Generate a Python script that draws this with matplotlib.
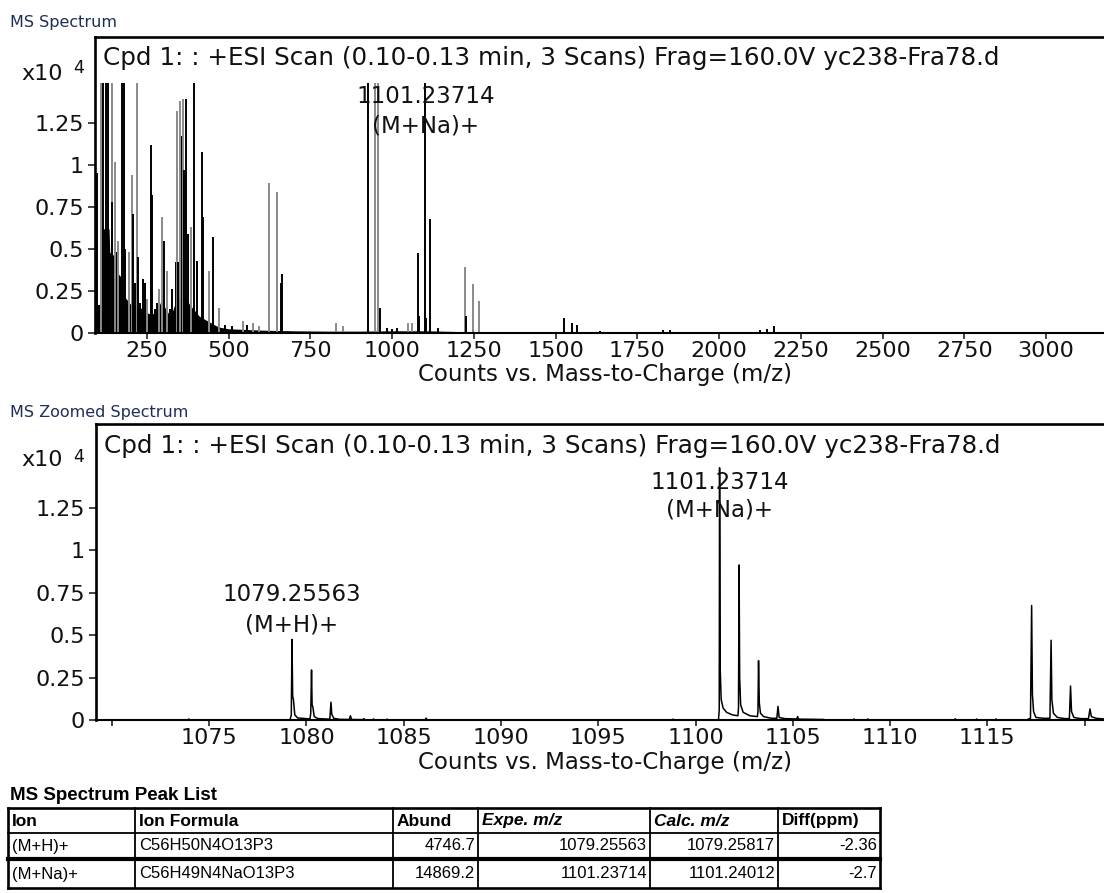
import matplotlib
matplotlib.use('Agg')
import matplotlib.pyplot as plt
from matplotlib.lines import Line2D
from matplotlib.ticker import FixedLocator, FuncFormatter
import numpy as np

W, H = 1104, 893

# full scan, centroid sticks (m/z, counts); 'g' sticks are the pale ones
stick_mz = [96, 109, 116, 124, 130, 142, 144, 152, 157, 162, 173, 179, 183, 195,
            203, 208, 213, 218, 223, 229, 239, 244, 249, 261, 266, 274, 280, 287,
            295, 303, 310, 320, 327, 338, 342, 346, 351, 356, 359, 363, 368, 376,
            385, 395, 402, 417, 422, 440, 453, 471, 489, 509, 545, 557, 575, 593,
            623, 647, 660, 664, 827, 850, 927, 948, 958, 964, 985, 1000, 1015,
            1048, 1060, 1079.26, 1083, 1101.24, 1104, 1117.2, 1141, 1223, 1226,
            1246, 1266, 1527, 1551, 1566, 1636, 1828, 1850, 2126, 2146, 2168]
stick_counts = [9500, 14869, 14869, 14869, 14869, 14869, 7800, 10200, 4800, 5500,
                14869, 14869, 5000, 4800, 9400, 7100, 3000, 14869, 4500, 1800, 3200,
                3000, 2000, 11200, 8200, 1400, 1800, 2600, 6900, 5500, 3700, 1400,
                2600, 4200, 13200, 4200, 13800, 11700, 13900, 9700, 13900, 5900,
                6300, 14869, 4300, 10800, 6900, 3700, 5700, 1500, 500, 400, 700, 500,
                600, 400, 8900, 8400, 3000, 3500, 600, 400, 14869, 14869, 14869,
                1500, 300, 250, 300, 600, 600, 4746.7, 1000, 14869.2, 900, 6800,
                300, 3900, 1000, 2900, 1900, 900, 600, 500, 100, 200, 200, 200, 250,
                400]
stick_shade = ['k', 'g', 'k', 'k', 'k', 'g', 'k', 'g', 'k', 'g', 'k', 'k', 'k', 'g',
               'g', 'k', 'k', 'g', 'k', 'k', 'k', 'k', 'g', 'k', 'k', 'k', 'k', 'g',
               'g', 'k', 'g', 'k', 'k', 'k', 'g', 'k', 'g', 'k', 'g', 'k', 'k', 'k',
               'g', 'k', 'k', 'k', 'k', 'g', 'k', 'g', 'k', 'k', 'g', 'k', 'g', 'g',
               'g', 'g', 'k', 'k', 'g', 'g', 'k', 'g', 'g', 'k', 'k', 'k', 'k',
               'g', 'g', 'k', 'k', 'k', 'k', 'k', 'k', 'g', 'k',
               'g', 'g', 'k', 'k', 'k', 'k', 'k', 'k', 'k', 'k', 'k']

# unresolved low-mass ion crowd under the sticks
crowd_mz = [91, 107, 109, 134, 136, 156, 158, 172, 174, 188, 200, 215, 230, 250,
            264, 280, 295, 305, 318, 328, 340, 355, 368, 380, 397, 410, 437, 455,
            470, 500, 540, 600, 700, 800, 900, 1000, 1100, 1200, 1300, 1400, 2000,
            3177]
crowd_counts = [1700, 1700, 6200, 6200, 4800, 4500, 3600, 3300, 2300, 2000, 1700,
                1600, 1500, 1200, 1100, 1300, 2000, 1500, 1100, 1300, 2000, 2200,
                2100, 1700, 1300, 1000, 700, 500, 350, 250, 220, 170, 130, 110, 110,
                130, 130, 90, 45, 30, 25, 20]

# zoomed profile trace around the molecular ions
profile_mz = [1069.2, 1073.9, 1073.95, 1074.0,
              1079.15, 1079.22, 1079.25563, 1079.29, 1079.33, 1079.40, 1079.55,
              1080.0, 1080.18, 1080.22, 1080.26, 1080.29, 1080.33, 1080.40, 1080.6,
              1081.0, 1081.2, 1081.26, 1081.30, 1081.4, 1081.7, 1082.2, 1082.26,
              1082.32, 1082.9, 1082.95, 1083.0, 1083.4, 1083.45, 1083.5, 1084.1,
              1084.15, 1084.2, 1086.1, 1086.15, 1086.2,
              1098.8, 1098.85, 1098.9, 1101.18, 1101.22, 1101.23714, 1101.27,
              1101.32, 1101.42, 1101.6, 1101.9, 1102.18, 1102.21, 1102.24, 1102.27,
              1102.32, 1102.45, 1102.8, 1103.18, 1103.21, 1103.24, 1103.28, 1103.34,
              1103.5, 1103.9, 1104.18, 1104.24, 1104.3, 1104.6, 1105.2, 1105.25,
              1105.3, 1106.6, 1106.7,
              1108.1, 1108.15, 1108.2, 1108.8, 1108.85, 1108.9, 1113.3, 1113.35,
              1113.4, 1114.4, 1114.45, 1114.5, 1115.4, 1115.45, 1115.5,
              1117.0, 1117.22, 1117.28, 1117.32, 1117.38, 1117.5, 1117.9, 1118.22,
              1118.28, 1118.32, 1118.4, 1118.6, 1119.0, 1119.22, 1119.28, 1119.33,
              1119.45, 1119.8, 1120.2, 1120.28, 1120.35, 1120.6, 1121.0]
profile_counts = [0, 0, 60, 0,
                  0, 300, 4746.7, 1400, 1200, 300, 120,
                  80, 60, 400, 2950, 900, 750, 200, 80,
                  60, 50, 1050, 350, 100, 40, 30, 250,
                  30, 20, 80, 10, 10, 60, 0, 0,
                  50, 0, 0, 110, 0,
                  0, 50, 0, 0, 600, 14869.2, 3000,
                  1200, 700, 450, 300, 250, 700, 9140, 2500,
                  900, 450, 250, 200, 500, 3500, 1000, 400,
                  200, 100, 100, 800, 150, 80, 60, 200,
                  50, 30, 0,
                  0, 60, 0, 0, 60, 0, 0, 70,
                  0, 0, 60, 0, 0, 60, 0,
                  0, 100, 6750, 1500, 500, 150, 100, 100,
                  4700, 1200, 400, 150, 80, 80, 2000, 500,
                  150, 80, 80, 650, 200, 100, 60]

# identified ions
ion_names = ['(M+H)+', '(M+Na)+']
ion_formulas = ['C56H50N4O13P3', 'C56H49N4NaO13P3']
ion_abund = [4746.7, 14869.2]
ion_expe = [1079.25563, 1101.23714]
ion_calc = [1079.25817, 1101.24012]
ion_diff = [-2.36, -2.7]

plt.rcParams['font.family'] = ['DejaVu Sans']
TXT = '#111111'
NAVY = '#1f2d5a'
GREY = '#8a8a8a'
table_font = ['Liberation Sans', 'DejaVu Sans']

fig = plt.figure(figsize=(W / 100, H / 100), dpi=100)


def px_axes(left, top, right, bottom):
    return fig.add_axes([left / W, 1 - bottom / H, (right - left) / W, (bottom - top) / H])


def fx(x):
    return x / W


def fy(y):
    return 1 - y / H


def style_axes(ax, title_y):
    for side in ['top', 'left']:
        ax.spines[side].set_linewidth(1.9)
    ax.spines['bottom'].set_linewidth(1.5)
    ax.spines['right'].set_visible(False)
    ax.yaxis.set_major_locator(FixedLocator([0, 0.25, 0.5, 0.75, 1, 1.25]))
    ax.yaxis.set_major_formatter(FuncFormatter(lambda v, p: '%g' % v))
    ax.tick_params(axis='y', direction='out', length=5, width=1.1, pad=3,
                   labelsize=16, colors=TXT)
    ax.tick_params(axis='x', direction='out', length=4.5, width=1.1, pad=1.5,
                   labelsize=16, colors=TXT)
    ax.text(0.008, title_y, 'Cpd 1: : +ESI Scan (0.10-0.13 min, 3 Scans) '
            'Frag=160.0V yc238-Fra78.d', transform=ax.transAxes,
            fontsize=17.7, color=TXT, va='center', ha='left')


# ---- full spectrum ----
ax1 = px_axes(95, 37, 1104, 333)
clip = max(ion_abund)
heights = np.minimum(np.array(stick_counts), clip) / 1e4
ax1.fill_between(np.array(crowd_mz), 0, np.array(crowd_counts) / 1e4,
                 color='black', lw=0)
cols = ['black' if s == 'k' else GREY for s in stick_shade]
ax1.vlines(stick_mz, 0, heights, colors=cols, lw=1.4)
ax1.set_xlim(90.9, 3177.5)
ax1.set_ylim(0, 1.762)
ax1.xaxis.set_major_locator(FixedLocator(np.arange(250, 3001, 250)))
ax1.xaxis.set_major_formatter(FuncFormatter(lambda v, p: '%d' % v))
style_axes(ax1, 1 - 21 / 296)
ax1.text(ion_expe[1], 1.41, '%.5f' % ion_expe[1], ha='center', va='center',
         fontsize=16.5, color=TXT)
ax1.text(ion_expe[1], 1.232, ion_names[1], ha='center', va='center',
         fontsize=16.5, color=TXT)

# ---- zoomed spectrum ----
ax2 = px_axes(96, 424, 1104, 720)
ax2.plot(profile_mz, np.array(profile_counts) / 1e4, color='black', lw=1.1)
ax2.set_xlim(1069.18, 1121.0)
ax2.set_ylim(0, 1.745)
ax2.xaxis.set_major_locator(FixedLocator(np.arange(1070, 1121, 5)))
ax2.xaxis.set_major_formatter(
    FuncFormatter(lambda v, p: '' if v in (1070, 1120) else '%d' % v))
style_axes(ax2, 1 - 22 / 296)
label_y = [(0.737, 0.56), (1.403, 1.238)]
for mz, name, (y1, y2) in zip(ion_expe, ion_names, label_y):
    ax2.text(mz, y1, '%.5f' % mz, ha='center', va='center', fontsize=16.5, color=TXT)
    ax2.text(mz, y2, name, ha='center', va='center', fontsize=16.5, color=TXT)

# panel captions, scale markers and axis labels
fig.text(fx(10), fy(27), 'MS Spectrum', fontsize=11.5, color=NAVY, ha='left',
         va='baseline')
fig.text(fx(10), fy(417), 'MS Zoomed Spectrum', fontsize=11.5, color=NAVY,
         ha='left', va='baseline')
for y_mul, y_exp, y_lab in [(74, 68, 374), (460, 457, 762)]:
    fig.text(fx(42), fy(y_mul), 'x10', fontsize=16, color=TXT, ha='center',
             va='center')
    fig.text(fx(79), fy(y_exp), '4', fontsize=12.5, color=TXT, ha='center',
             va='center')
    fig.text(fx(605), fy(y_lab), 'Counts vs. Mass-to-Charge (m/z)', fontsize=16.5,
             color=TXT, ha='center', va='center')

# ---- peak list table ----
fig.text(fx(10), fy(796), 'MS Spectrum Peak List', fontsize=13.5, fontweight='bold',
         family=table_font, color='black', ha='left', va='center')
col_x = [8, 135, 393, 478, 650, 778, 880]
row_y = [808, 833, 859, 888]
headers = ['Ion', 'Ion Formula', 'Abund', 'Expe. m/z', 'Calc. m/z', 'Diff(ppm)']
italic_head = [False, False, False, True, True, False]
for j, (hd, it) in enumerate(zip(headers, italic_head)):
    fig.text(fx(col_x[j] + 4), fy(821), hd, fontsize=12.5, fontweight='bold',
             fontstyle='italic' if it else 'normal', family=table_font,
             color='black', ha='left', va='center')
row_centers = [846, 874]
for i in range(len(ion_names)):
    cells = [ion_names[i], ion_formulas[i], '%.1f' % ion_abund[i],
             '%.5f' % ion_expe[i], '%.5f' % ion_calc[i], '%g' % ion_diff[i]]
    for j, c in enumerate(cells):
        if j < 2:
            x, ha = col_x[j] + 4, 'left'
        else:
            x, ha = col_x[j + 1] - 3, 'right'
        fig.text(fx(x), fy(row_centers[i]), c, fontsize=12, family=table_font,
                 color='black', ha=ha, va='center')

h_lw = [1.9, 1.3, 3.0, 1.9]
for y, lw in zip(row_y, h_lw):
    fig.add_artist(Line2D([fx(col_x[0]), fx(col_x[-1])], [fy(y), fy(y)],
                          lw=lw, color='black'))
for k, x in enumerate(col_x):
    lw = 1.9 if k in (0, len(col_x) - 1) else 1.3
    fig.add_artist(Line2D([fx(x), fx(x)], [fy(row_y[0]), fy(row_y[-1])],
                          lw=lw, color='black'))

fig.savefig('out.png', dpi=100)
